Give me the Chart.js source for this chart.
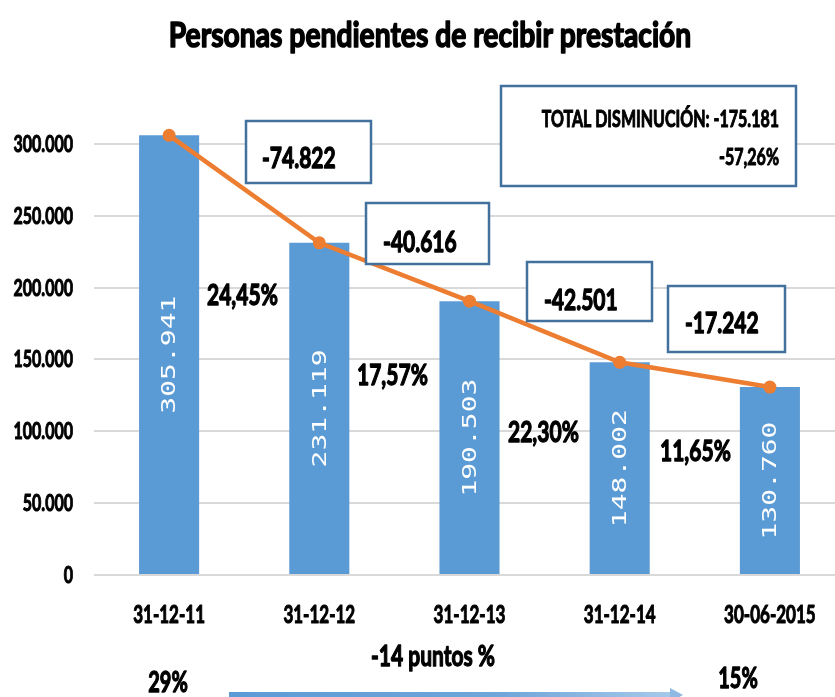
<!DOCTYPE html>
<html>
<head>
<meta charset="utf-8">
<script src="https://cdn.jsdelivr.net/npm/chart.js@4.4.0/dist/chart.umd.min.js"></script>
<style>
  html, body { margin: 0; padding: 0; background: #fff; overflow: hidden; }
  #wrap { width: 835px; height: 697px; overflow: hidden; }
</style>
</head>
<body>
<div id="wrap"><canvas id="c" width="860" height="697"></canvas></div>
<script>
// data
var categories = ["31-12-11", "31-12-12", "31-12-13", "31-12-14", "30-06-2015"];
var personas = [305941, 231119, 190503, 148002, 130760];
var diferencias = ["-74.822", "-40.616", "-42.501", "-17.242"];
var porcentajes = ["24,45%", "17,57%", "22,30%", "11,65%"];
var yTicks = [0, 50000, 100000, 150000, 200000, 250000, 300000];
var totalTexto = ["TOTAL DISMINUCIÓN: -175.181", "-57,26%"];
var pieTexto = ["29%", "-14 puntos %", "15%"];

var SY = 1.4; // the original is stretched vertically
var BLUE = "#5B9BD5";
var ORANGE = "#ED7D31";
var BOX = "#41719C";

function fmt(v) {
  return String(v).replace(/\B(?=(\d{3})+(?!\d))/g, ".");
}

function sText(ctx, txt, x, y, size, align, sx) {
  ctx.save();
  ctx.translate(x, y);
  ctx.scale(sx || 1, SY);
  ctx.font = "bold " + size + "px Lato";
  ctx.textAlign = align || "left";
  ctx.textBaseline = "alphabetic";
  ctx.fillStyle = "#000";
  ctx.strokeStyle = "#000";
  ctx.lineWidth = size / 22;
  ctx.lineJoin = "round";
  ctx.fillText(txt, 0, 0);
  ctx.strokeText(txt, 0, 0);
  ctx.restore();
}

function box(ctx, x1, y1, x2, y2) {
  ctx.save();
  ctx.fillStyle = "#fff";
  ctx.fillRect(x1, y1, x2 - x1, y2 - y1);
  ctx.strokeStyle = BOX;
  ctx.lineWidth = 2.5;
  ctx.strokeRect(x1, y1, x2 - x1, y2 - y1);
  ctx.restore();
}

var extras = {
  id: "extras",
  afterDatasetsDraw: function (chart) {
    var ctx = chart.ctx;
    // values inside bars, rotated
    var bars = chart.getDatasetMeta(1).data;
    bars.forEach(function (b, i) {
      var cy = (b.y + b.base) / 2;
      ctx.save();
      ctx.translate(b.x, cy);
      ctx.scale(1, SY);
      ctx.rotate(-Math.PI / 2);
      ctx.font = "20px 'DejaVu Sans Mono'";
      ctx.textAlign = "center";
      ctx.textBaseline = "middle";
      ctx.fillStyle = "#fff";
      ctx.fillText(fmt(personas[i]), 0, 1);
      ctx.restore();
    });
  },
  afterDraw: function (chart) {
    var ctx = chart.ctx;
    var xs = chart.scales.x, ys = chart.scales.y;

    // title
    sText(ctx, "Personas pendientes de recibir prestación", 430, 47, 25, "center", 1.13);

    // y tick labels
    yTicks.forEach(function (v) {
      sText(ctx, v === 0 ? "0" : fmt(v), 73, ys.getPixelForValue(v) + 8, 16, "right");
    });

    // x labels
    categories.forEach(function (c, i) {
      sText(ctx, c, xs.getPixelForValue(i), 623, 17, "center");
    });

    // difference boxes
    var boxes = [
      [246, 121, 371, 183, 262, 168],
      [366, 203, 489, 264, 383, 252],
      [527, 262, 652, 321, 544, 310],
      [668, 286, 785, 352, 685, 333]
    ];
    boxes.forEach(function (b, i) {
      box(ctx, b[0], b[1], b[2], b[3]);
      sText(ctx, diferencias[i], b[4], b[5], 21, "left");
    });

    // percentage labels between bars
    var pcts = [[207, 305], [357, 385], [508, 442], [660, 461]];
    pcts.forEach(function (p, i) {
      sText(ctx, porcentajes[i], p[0], p[1], 21, "left");
    });

    // total box
    box(ctx, 501, 86, 796, 186);
    sText(ctx, totalTexto[0], 779, 127, 16, "right");
    sText(ctx, totalTexto[1], 779, 165, 16, "right");

    // bottom notes
    sText(ctx, pieTexto[0], 168, 692, 20, "center");
    sText(ctx, pieTexto[1], 433, 666, 21, "center");
    sText(ctx, pieTexto[2], 738, 688, 20, "center");

    // arrow
    var g = ctx.createLinearGradient(229, 0, 682, 0);
    g.addColorStop(0, "#5B9BD5");
    g.addColorStop(0.6, "#6FA6DA");
    g.addColorStop(1, "#A9CBEA");
    ctx.save();
    ctx.strokeStyle = g;
    ctx.lineWidth = 6;
    ctx.beginPath();
    ctx.moveTo(229, 695);
    ctx.lineTo(672, 695);
    ctx.stroke();
    ctx.fillStyle = "#8DB9E3";
    ctx.beginPath();
    ctx.moveTo(670, 688);
    ctx.lineTo(683, 695);
    ctx.lineTo(670, 702);
    ctx.closePath();
    ctx.fill();
    ctx.restore();
  }
};

new Chart(document.getElementById("c").getContext("2d"), {
  type: "bar",
  data: {
    labels: categories,
    datasets: [
      {
        type: "line",
        data: personas,
        borderColor: ORANGE,
        backgroundColor: ORANGE,
        borderWidth: 4.5,
        pointRadius: 6.5,
        pointBackgroundColor: ORANGE,
        pointBorderWidth: 0,
        tension: 0,
        order: 0
      },
      {
        type: "bar",
        data: personas,
        backgroundColor: BLUE,
        categoryPercentage: 0.5,
        barPercentage: 0.8,
        order: 1
      }
    ]
  },
  options: {
    responsive: false,
    animation: false,
    layout: { padding: { left: 94, right: 15, top: 72, bottom: 114 } },
    plugins: {
      legend: { display: false },
      title: { display: false },
      tooltip: { enabled: false }
    },
    scales: {
      x: {
        grid: { display: false },
        border: { display: false },
        ticks: { display: false }
      },
      y: {
        min: 0,
        max: 350000,
        border: { display: false },
        ticks: { display: false, stepSize: 50000 },
        grid: {
          drawTicks: false,
          lineWidth: 2,
          color: function (c) {
            return c.tick && c.tick.value > 300000 ? "rgba(0,0,0,0)" : "#D9D9D9";
          }
        }
      }
    }
  },
  plugins: [extras]
});
</script>
</body>
</html>
